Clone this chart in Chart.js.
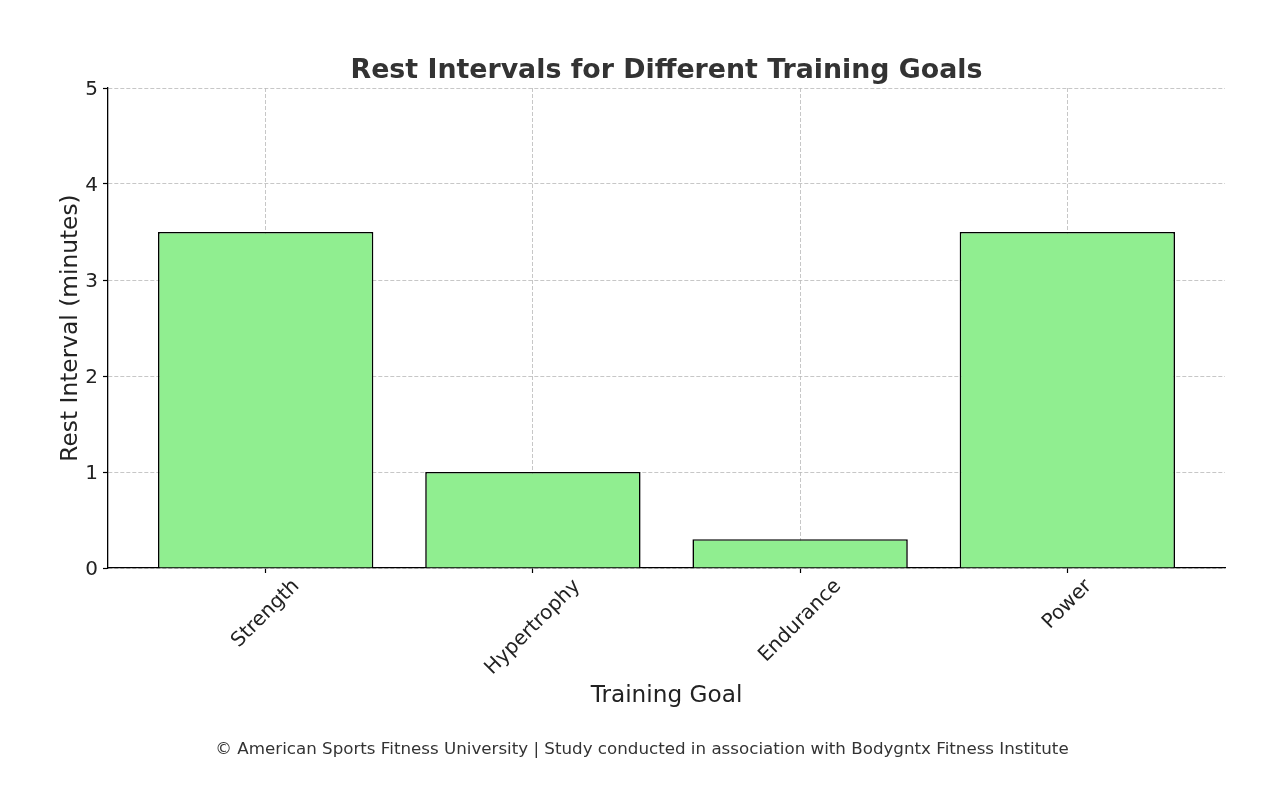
<!DOCTYPE html>
<html>
<head>
<meta charset="utf-8">
<script src="https://cdn.jsdelivr.net/npm/chart.js@4.4.1/dist/chart.umd.min.js"></script>
<style>
html,body{margin:0;padding:0;background:#fff;}
#wrap{width:1284px;height:797px;position:relative;}
</style>
</head>
<body>
<div id="wrap"><canvas id="c" width="1284" height="797"></canvas></div>
<script>
const categories = ["Strength", "Hypertrophy", "Endurance", "Power"];
const restMinutes = [3.5, 1.0, 0.3, 3.5];
const yTicks = [0, 1, 2, 3, 4, 5];
const titleText = "Rest Intervals for Different Training Goals";
const xTitle = "Training Goal";
const yTitle = "Rest Interval (minutes)";
const footnote = "\u00a9 American Sports Fitness University | Study conducted in association with Bodygntx Fitness Institute";

const FONT = "'DejaVu Sans', sans-serif";
const points = categories.map((c, i) => ({x: i, y: restMinutes[i]}));
const TICK_PX = 20;

const overlay = {
  id: 'overlay',
  afterDraw(chart) {
    const ctx = chart.ctx;
    const area = chart.chartArea;
    const xs = chart.scales.x;
    ctx.save();
    // title
    ctx.fillStyle = '#333333';
    ctx.font = "bold 26.8px " + FONT;
    ctx.textAlign = 'center';
    ctx.textBaseline = 'middle';
    ctx.fillText(titleText, (area.left + area.right) / 2, 71.5);
    // footnote
    ctx.font = "16.7px " + FONT;
    ctx.fillText(footnote, chart.width / 2, 749.5);
    // rotated x tick labels (centred like matplotlib)
    ctx.fillStyle = '#222222';
    ctx.font = TICK_PX + "px " + FONT;
    const fh = TICK_PX * 1.15;
    categories.forEach((c, i) => {
      const w = ctx.measureText(c).width;
      const bb = (w + fh) * Math.SQRT1_2;
      const cx = xs.getPixelForValue(i);
      const cy = area.bottom + 7 + bb / 2;
      ctx.save();
      ctx.translate(cx, cy);
      ctx.rotate(-Math.PI / 4);
      ctx.textAlign = 'center';
      ctx.textBaseline = 'middle';
      ctx.fillText(c, 0, 0);
      ctx.restore();
    });
    ctx.restore();
  }
};

const gridOpts = {
  color: 'rgba(185,185,185,0.8)',
  lineWidth: 1,
  drawTicks: true,
  tickLength: 5,
  tickColor: '#000000',
  tickBorderDash: [],
  tickWidth: 1.2,
  offset: false
};

new Chart(document.getElementById('c'), {
  type: 'bar',
  data: {
    datasets: [{
      data: points,
      backgroundColor: '#90EE90',
      borderColor: '#000000',
      borderWidth: 1.6,
      categoryPercentage: 1,
      barPercentage: 0.806
    }]
  },
  options: {
    responsive: false,
    animation: false,
    devicePixelRatio: 1,
    layout: {padding: {left: 0, top: 88, right: 59, bottom: 0}},
    plugins: {legend: {display: false}, title: {display: false}, tooltip: {enabled: false}},
    scales: {
      x: {
        type: 'linear',
        min: -0.59,
        max: 3.59,
        offset: false,
        z: 1,
        afterBuildTicks(s) { s.ticks = categories.map((c, i) => ({value: i})); },
        afterFit(s) { s.height = 229; },
        ticks: {display: false},
        grid: gridOpts,
        border: {display: true, color: '#000000', width: 1.3, dash: [4, 2]},
        title: {
          display: true, text: xTitle, color: '#222222',
          font: {family: FONT, size: 23.2}, padding: {top: 0, bottom: 87}
        }
      },
      y: {
        min: 0,
        max: 5,
        z: 1,
        afterBuildTicks(s) { s.ticks = yTicks.map(v => ({value: v})); },
        afterFit(s) { s.width = 108; },
        ticks: {color: '#222222', font: {family: FONT, size: TICK_PX}, padding: 5, labelOffset: 2},
        grid: gridOpts,
        border: {display: true, color: '#000000', width: 1.3, dash: [4, 2]},
        title: {
          display: true, text: yTitle, color: '#222222',
          font: {family: FONT, size: 23.3}, padding: {top: 57, bottom: 0}
        }
      }
    }
  },
  plugins: [overlay]
});
</script>
</body>
</html>
